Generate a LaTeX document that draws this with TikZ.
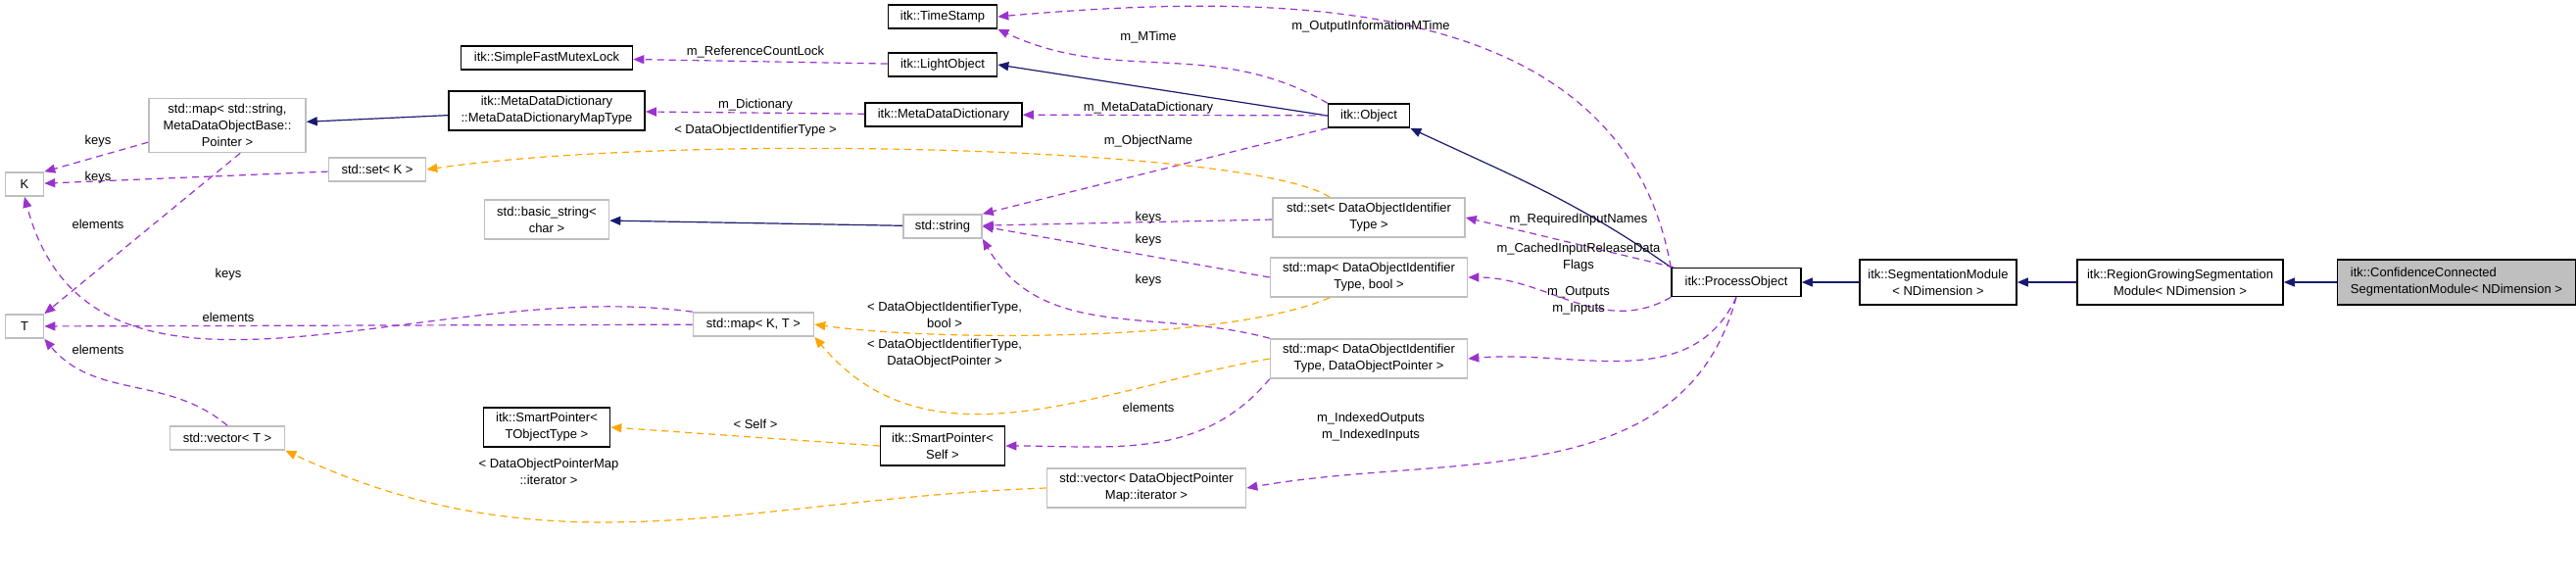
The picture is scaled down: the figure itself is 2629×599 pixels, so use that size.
\documentclass[tikz,border=0pt]{standalone}
\usepackage{fontspec}
\setmainfont{Liberation Sans}
\usetikzlibrary{arrows.meta}
\definecolor{xpurple}{HTML}{9A32CD}
\definecolor{xorange}{HTML}{FFA500}
\definecolor{xnavy}{HTML}{191970}
\definecolor{xgray}{HTML}{BFBFBF}
\tikzset{
	cls/.style={draw=black, line width=1.6pt, fill=white, align=center, inner sep=2pt, minimum height=24pt, font=\fontsize{13}{17}\selectfont},
	ext/.style={cls, draw=xgray},
	cur/.style={cls, fill=xgray, align=left},
	inherit/.style={xnavy, line width=1.2pt, -{Triangle[length=11pt, width=9pt]}},
	uses/.style={xpurple, line width=1.2pt, dash pattern=on 7pt off 5pt, -{Triangle[length=11pt, width=9pt]}},
	tmpl/.style={uses, xorange},
	lbl/.style={font=\fontsize{13}{17}\selectfont, align=center, inner sep=0pt},
}
\begin{document}
\begin{tikzpicture}[x=1pt, y=-1pt]
	\useasboundingbox (0,0) rectangle (2629,599);

	% classes
	\node[cur, minimum width=243pt, minimum height=46pt] (ccsm) at (2507,288) {itk::ConfidenceConnected\\SegmentationModule< NDimension >};
	\node[cls, minimum width=210pt, minimum height=46pt] (rgsm) at (2225,288) {itk::RegionGrowingSegmentation\\Module< NDimension >};
	\node[cls, minimum width=160pt, minimum height=46pt] (sm) at (1978,288) {itk::SegmentationModule\\< NDimension >};
	\node[cls, minimum width=132pt, minimum height=29pt] (po) at (1772,288) {itk::ProcessObject};
	\node[cls, minimum width=83pt] (obj) at (1397,118) {itk::Object};
	\node[cls, minimum width=111pt] (ts) at (962,17) {itk::TimeStamp};
	\node[cls, minimum width=111pt] (lo) at (962,66) {itk::LightObject};
	\node[cls, minimum width=160pt] (mdd) at (963,117) {itk::MetaDataDictionary};
	\node[cls, minimum width=175pt] (mutex) at (558,59) {itk::SimpleFastMutexLock};
	\node[cls, minimum width=200pt, minimum height=40pt] (mddmap) at (558,113) {itk::MetaDataDictionary\\::MetaDataDictionaryMapType};
	\node[cls, minimum width=129pt, minimum height=40pt] (sptr) at (558,436) {itk::SmartPointer<\\TObjectType >};
	\node[cls, minimum width=127pt, minimum height=40pt] (sself) at (962,455) {itk::SmartPointer<\\Self >};

	% templates and instances
	\node[ext, minimum width=160pt, minimum height=55pt] (mapstr) at (232,128) {std::map< std::string,\\MetaDataObjectBase::\\Pointer >};
	\node[ext, minimum width=39pt] (K) at (25,188) {K};
	\node[ext, minimum width=39pt] (T) at (25,333) {T};
	\node[ext, minimum width=99pt] (setK) at (385,173) {std::set< K >};
	\node[ext, minimum width=127pt, minimum height=40pt] (bstr) at (558,224) {std::basic\_string<\\char >};
	\node[ext, minimum width=123pt] (mapKT) at (769,331) {std::map< K, T >};
	\node[ext, minimum width=117pt] (vecT) at (232,447) {std::vector< T >};
	\node[ext, minimum width=80pt] (str) at (962,231) {std::string};
	\node[ext, minimum width=196pt, minimum height=40pt] (setdoi) at (1397,222) {std::set< DataObjectIdentifier\\Type >};
	\node[ext, minimum width=201pt, minimum height=40pt] (mapbool) at (1397,283) {std::map< DataObjectIdentifier\\Type, bool >};
	\node[ext, minimum width=201pt, minimum height=40pt] (mapdop) at (1397,366) {std::map< DataObjectIdentifier\\Type, DataObjectPointer >};
	\node[ext, minimum width=203pt, minimum height=40pt] (vecdop) at (1170,498) {std::vector< DataObjectPointer\\Map::iterator >};

	% inheritance
	\draw[inherit] (ccsm) -- (rgsm);
	\draw[inherit] (rgsm) -- (sm);
	\draw[inherit] (sm) -- (po);
	\draw[inherit] (po.north west) to[out=145, in=-25] (obj.south east);
	\draw[inherit] (obj.west) -- (lo.east);
	\draw[inherit] (mddmap) -- (mapstr);
	\draw[inherit] (str) -- (bstr);

	% members
	\draw[uses] (lo) -- (mutex);
	\draw[uses] (mdd) -- (mddmap);
	\draw[uses] (obj) -- (mdd);
	\draw[uses] (obj.north west) to[out=150, in=-25] (ts.south east);
	\draw[uses] (po.north west) to[out=100, in=5] (ts.east);
	\draw[uses] (obj.south west) -- (str.north east);
	\draw[uses] (setdoi) -- (str);
	\draw[uses] (mapbool.west) -- (str.east);
	\draw[uses] (mapdop.north west) to[out=165, in=-60] (str.south east);
	\draw[uses] (mapdop.south west) to[out=-130, in=0] (sself);
	\draw[uses] (po) -- (setdoi.east);
	\draw[uses] (po.south west) to[out=-150, in=0] (mapbool.east);
	\draw[uses] (po.south) to[out=-115, in=5] (mapdop.east);
	\draw[uses] (po.south) to[out=-105, in=10] (vecdop.east);
	\draw[uses] (mapstr.192) -- (K.north east);
	\draw[uses] (mapstr.-65) -- (T.north east);
	\draw[uses] (setK) -- (K);
	\draw[uses] (mapKT.north west) to[out=172, in=-75] (K.south);
	\draw[uses] (mapKT) -- (T);
	\draw[uses] (vecT.north) to[out=140, in=-50] (T.south east);

	% template arguments
	\draw[tmpl] ([xshift=-40pt]setdoi.north) .. controls (1280,150) and (700,135) .. (setK.east);
	\draw[tmpl] ([xshift=-40pt]mapbool.south) .. controls (1250,350) and (950,348) .. (mapKT.east);
	\draw[tmpl] (mapdop.west) to[out=190, in=-50] (mapKT.south east);
	\draw[tmpl] (sself.west) -- (sptr.east);
	\draw[tmpl] (vecdop.west) to[out=182, in=-25] (vecT.south east);

	% labels
	\node[lbl] (l1) at (771,53) {m\_ReferenceCountLock};
	\node[lbl] (l2) at (771,107) {m\_Dictionary};
	\node[lbl] (l3) at (771,133) {< DataObjectIdentifierType >};
	\node[lbl] (l4) at (100,144) {keys};
	\node[lbl] (l5) at (100,181) {keys};
	\node[lbl] (l6) at (100,229) {elements};
	\node[lbl] (l7) at (233,280) {keys};
	\node[lbl] (l8) at (233,324) {elements};
	\node[lbl] (l9) at (100,357) {elements};
	\node[lbl] (l10) at (771,433) {< Self >};
	\node[lbl] (l11) at (560,481) {< DataObjectPointerMap\\::iterator >};
	\node[lbl] (l12) at (1399,27) {m\_OutputInformationMTime};
	\node[lbl] (l13) at (1172,38) {m\_MTime};
	\node[lbl] (l14) at (1172,110) {m\_MetaDataDictionary};
	\node[lbl] (l15) at (1172,144) {m\_ObjectName};
	\node[lbl] (l16) at (1172,222) {keys};
	\node[lbl] (l17) at (1172,245) {keys};
	\node[lbl] (l18) at (1172,286) {keys};
	\node[lbl] (l19) at (964,321) {< DataObjectIdentifierType,\\bool >};
	\node[lbl] (l20) at (964,361) {< DataObjectIdentifierType,\\DataObjectPointer >};
	\node[lbl] (l21) at (1172,416) {elements};
	\node[lbl] (l22) at (1399,436) {m\_IndexedOutputs\\m\_IndexedInputs};
	\node[lbl] (l23) at (1611,224) {m\_RequiredInputNames};
	\node[lbl] (l24) at (1611,263) {m\_CachedInputReleaseData\\Flags};
	\node[lbl] (l25) at (1611,307) {m\_Outputs\\m\_Inputs};
\end{tikzpicture}
\end{document}
